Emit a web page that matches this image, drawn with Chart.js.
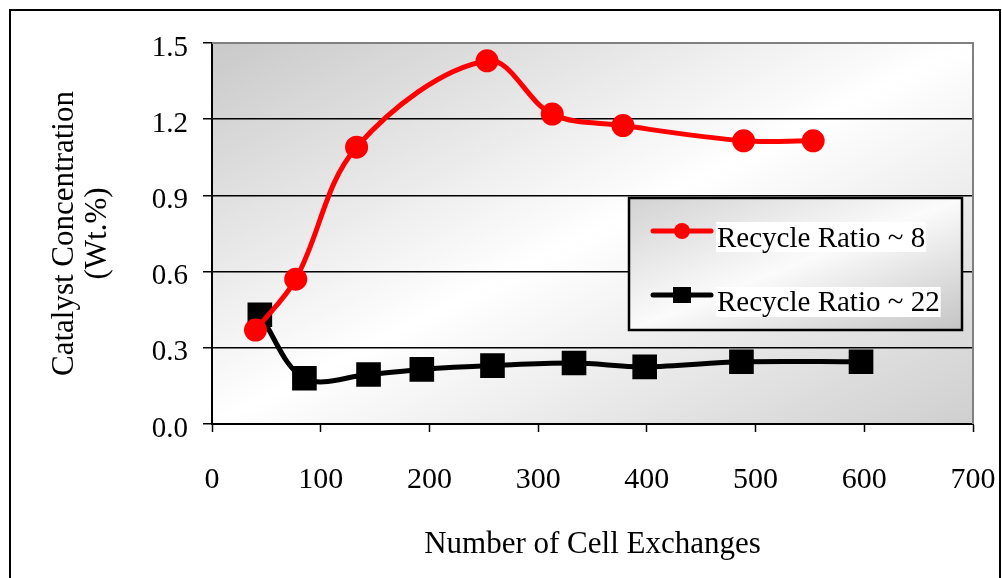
<!DOCTYPE html>
<html>
<head>
<meta charset="utf-8">
<script src="https://cdn.jsdelivr.net/npm/chart.js@4"></script>
<style>
  html, body { margin: 0; padding: 0; background: #ffffff; }
  canvas { display: block; }
</style>
</head>
<body>
<canvas id="chart" width="1002" height="578"></canvas>
<script>
// Catalyst concentration vs. number of cell exchanges, two recycle ratios
const seriesLabels = ['Recycle Ratio ~ 8', 'Recycle Ratio ~ 22'];
const ratio8X  = [40, 77, 133, 253, 313, 378, 489, 553];
const ratio8Y  = [0.37, 0.57, 1.09, 1.43, 1.22, 1.175, 1.115, 1.115];
const ratio22X = [44, 85, 144, 193, 258, 333, 398, 487, 597];
const ratio22Y = [0.43, 0.18, 0.195, 0.215, 0.23, 0.24, 0.225, 0.245, 0.245];
const xTicks = [0, 100, 200, 300, 400, 500, 600, 700];
const yTicks = [0.0, 0.3, 0.6, 0.9, 1.2, 1.5];
const xTitle = 'Number of Cell Exchanges';
const yTitle = ['Catalyst Concentration', '(Wt.%)'];

const FONT = '"Liberation Serif", "Times New Roman", serif';

const toPoints = (xs, ys) => xs.map((x, i) => ({ x: x, y: ys[i] }));

// Diagonal grey-white-grey fill whose light band runs from top-right to bottom-left
function diagonalFill(ctx, l, t, w, h, c0, c1, c2) {
  const k = 2 * w * h / (w * w + h * h);
  const g = ctx.createLinearGradient(l, t, l + k * h, t + k * w);
  g.addColorStop(0, c0);
  g.addColorStop(0.5, c1);
  g.addColorStop(1, c2);
  return g;
}

const framePlugin = {
  id: 'frame',
  beforeDraw(chart) {
    const { ctx, chartArea: a } = chart;
    ctx.save();
    ctx.fillStyle = '#ffffff';
    ctx.fillRect(0, 0, chart.width, chart.height);
    ctx.fillStyle = diagonalFill(ctx, a.left, a.top, a.right - a.left, a.bottom - a.top,
      '#c9c9c9', '#ffffff', '#cfcfcf');
    ctx.fillRect(a.left, a.top, a.right - a.left, a.bottom - a.top);
    // outer chart border
    ctx.strokeStyle = '#000000';
    ctx.lineWidth = 2;
    ctx.strokeRect(10, 10, 990, 620);
    ctx.restore();
  },
  beforeDatasetsDraw(chart) {
    const { ctx, chartArea: a } = chart;
    ctx.save();
    ctx.strokeStyle = '#808080';
    ctx.lineWidth = 2;
    ctx.beginPath();
    ctx.moveTo(a.left, a.top);
    ctx.lineTo(a.right, a.top);
    ctx.lineTo(a.right, a.bottom);
    ctx.stroke();
    ctx.restore();
  }
};

const legendPlugin = {
  id: 'boxLegend',
  afterDraw(chart) {
    const { ctx } = chart;
    const box = { x: 629, y: 198, w: 333, h: 132 };
    ctx.save();
    ctx.fillStyle = diagonalFill(ctx, box.x, box.y, box.w, box.h, '#d2d2d2', '#fbfbfb', '#c4c4c4');
    ctx.fillRect(box.x, box.y, box.w, box.h);
    ctx.strokeStyle = '#000000';
    ctx.lineWidth = 2.5;
    ctx.strokeRect(box.x, box.y, box.w, box.h);

    const rows = [
      { lineY: 231, base: 247, bgTop: 222, bgH: 30 },
      { lineY: 295, base: 311, bgTop: 287, bgH: 30 }
    ];
    ctx.font = '29px ' + FONT;
    chart.data.datasets.forEach((ds, i) => {
      const r = rows[i];
      ctx.strokeStyle = ds.borderColor;
      ctx.lineWidth = 5;
      ctx.lineCap = 'round';
      ctx.beginPath();
      ctx.moveTo(653, r.lineY);
      ctx.lineTo(711, r.lineY);
      ctx.stroke();
      ctx.fillStyle = ds.pointBackgroundColor;
      if (ds.pointStyle === 'circle') {
        ctx.beginPath();
        ctx.arc(682, r.lineY, 8, 0, Math.PI * 2);
        ctx.fill();
      } else {
        ctx.fillRect(673, r.lineY - 8, 18, 16);
      }
      const tw = ctx.measureText(ds.label).width;
      ctx.fillStyle = '#ffffff';
      ctx.fillRect(716, r.bgTop, tw + 2, r.bgH);
      ctx.fillStyle = '#000000';
      ctx.textBaseline = 'alphabetic';
      ctx.textAlign = 'left';
      ctx.fillText(ds.label, 717, r.base);
    });
    ctx.restore();
  }
};

new Chart(document.getElementById('chart'), {
  type: 'line',
  data: {
    datasets: [
      {
        label: seriesLabels[0],
        data: toPoints(ratio8X, ratio8Y),
        borderColor: '#ff0000',
        backgroundColor: '#ff0000',
        pointBackgroundColor: '#ff0000',
        pointBorderColor: '#ff0000',
        borderWidth: 5,
        tension: 0.35,
        pointStyle: 'circle',
        pointRadius: 10.5,
        pointBorderWidth: 2,
        pointHoverRadius: 10.5
      },
      {
        label: seriesLabels[1],
        data: toPoints(ratio22X, ratio22Y),
        borderColor: '#000000',
        backgroundColor: '#000000',
        pointBackgroundColor: '#000000',
        pointBorderColor: '#000000',
        borderWidth: 5,
        tension: 0.35,
        pointStyle: 'rect',
        pointRadius: 16,
        pointBorderWidth: 2,
        pointHoverRadius: 16
      }
    ]
  },
  options: {
    responsive: false,
    animation: false,
    devicePixelRatio: 1,
    layout: { padding: { left: 0, top: 43, right: 29, bottom: 0 } },
    plugins: {
      legend: { display: false },
      tooltip: { enabled: false }
    },
    scales: {
      x: {
        type: 'linear',
        min: 0,
        max: 700,
        afterBuildTicks(scale) { scale.ticks = xTicks.map(v => ({ value: v })); },
        afterFit(scale) {
          scale.height = 154;
          scale.paddingLeft = 0;
          scale.paddingRight = 0;
        },
        border: { display: true, color: '#000000', width: 2 },
        grid: {
          drawOnChartArea: false,
          drawTicks: true,
          tickLength: 8,
          tickColor: '#000000',
          tickWidth: 1.5
        },
        ticks: {
          color: '#000000',
          font: { family: FONT, size: 30 },
          padding: 30,
          maxRotation: 0,
          callback: v => String(v)
        },
        title: {
          display: true,
          text: xTitle,
          color: '#000000',
          font: { family: FONT, size: 31 },
          padding: { top: 0, bottom: 15 }
        }
      },
      y: {
        type: 'linear',
        min: 0,
        max: 1.5,
        afterBuildTicks(scale) { scale.ticks = yTicks.map(v => ({ value: v })); },
        afterFit(scale) {
          scale.width = 212;
          scale.paddingTop = 0;
          scale.paddingBottom = 0;
        },
        border: { display: true, color: '#000000', width: 2 },
        grid: {
          color: c => (c.tick && c.tick.value >= 1.5) ? 'rgba(0,0,0,0)' : '#000000',
          lineWidth: 1.5,
          drawTicks: true,
          tickLength: 9,
          tickColor: '#000000',
          tickWidth: 1.5
        },
        ticks: {
          color: '#000000',
          font: { family: FONT, size: 29 },
          padding: 15,
          labelOffset: 5,
          callback: v => Number(v).toFixed(1)
        },
        title: {
          display: true,
          text: yTitle,
          color: '#000000',
          font: { family: FONT, size: 31, lineHeight: 1.07 },
          padding: { top: 48, bottom: 0 }
        }
      }
    }
  },
  plugins: [framePlugin, legendPlugin]
});
</script>
</body>
</html>
